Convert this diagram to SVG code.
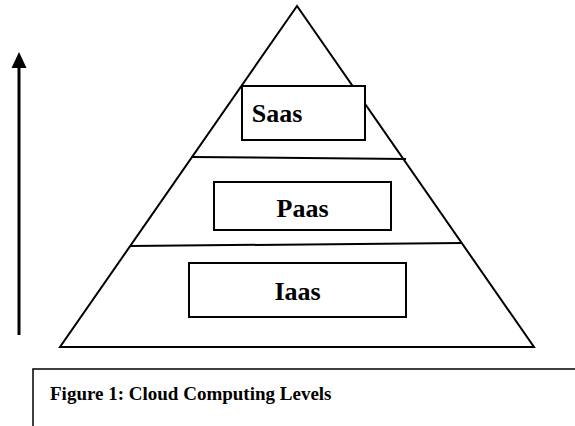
<svg xmlns="http://www.w3.org/2000/svg" width="575" height="426" viewBox="0 0 575 426">
<style>
.ln{stroke:#000;stroke-width:2;fill:none}
.box{fill:#fff;stroke:#000;stroke-width:2}
</style>
<rect width="575" height="426" fill="#fff"/>
<g id="pyramid">
<polygon class="ln" points="297,6 60,347 534,347"/>
</g>
<g id="connectors">
<line class="ln" x1="191" y1="157" x2="406" y2="159"/>
<line class="ln" x1="130" y1="246" x2="462" y2="243"/>
<line x1="19" y1="335" x2="19" y2="68" stroke="#000" stroke-width="3"/>
<polygon points="19,52 11.5,68 26.5,68" fill="#000"/>
</g>
<g id="saas">
<rect class="box" x="242" y="86" width="123" height="54"/>
<text x="277" y="122" font-family="Liberation Serif, Times New Roman, serif" font-weight="bold" font-size="26" text-anchor="middle" fill="#000">Saas</text>
</g>
<g id="paas">
<rect class="box" x="214" y="182" width="177" height="48"/>
<text x="302.5" y="217" font-family="Liberation Serif, Times New Roman, serif" font-weight="bold" font-size="26" text-anchor="middle" fill="#000">Paas</text>
</g>
<g id="iaas">
<rect class="box" x="189" y="263" width="217" height="54"/>
<text x="297.5" y="300" font-family="Liberation Serif, Times New Roman, serif" font-weight="bold" font-size="26" text-anchor="middle" fill="#000">Iaas</text>
</g>
<g id="caption">
<polyline points="33,426 33,369 575,369" fill="none" stroke="#000" stroke-width="1.5"/>
<text x="50" y="400" font-family="Liberation Serif, Times New Roman, serif" font-weight="bold" font-size="19" fill="#000">Figure 1: Cloud Computing Levels</text>
</g>
</svg>
